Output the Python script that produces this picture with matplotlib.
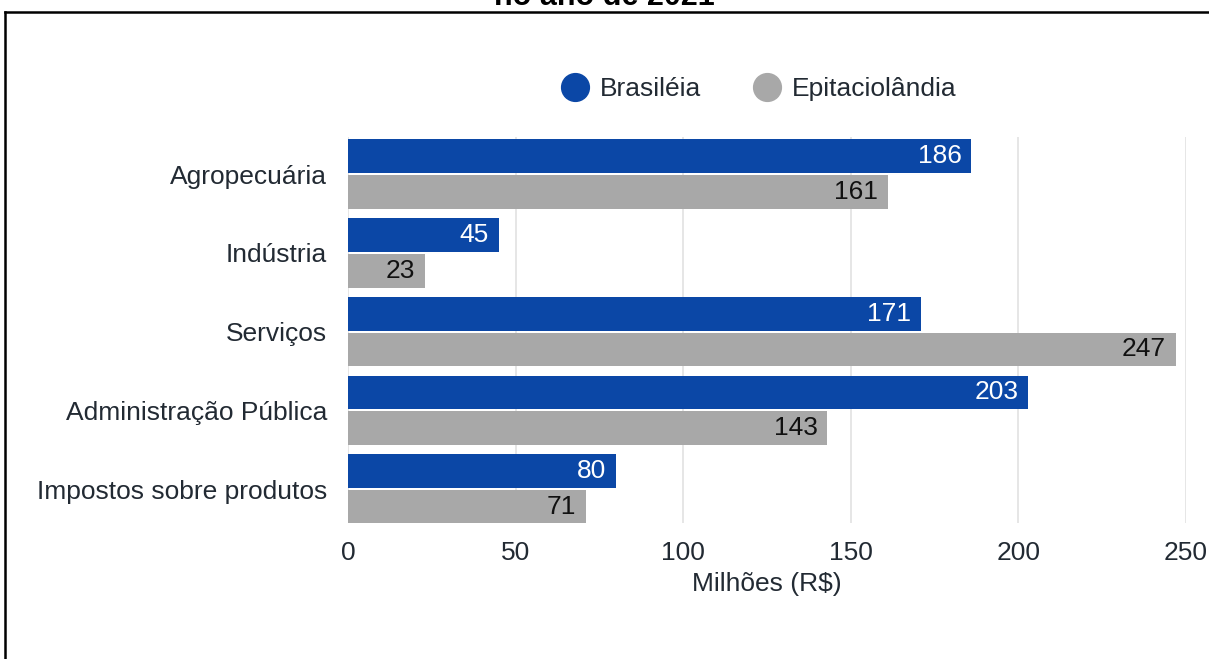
import matplotlib.pyplot as plt
from matplotlib.lines import Line2D
import numpy as np

categories = ['Agropecuária', 'Indústria', 'Serviços', 'Administração Pública', 'Impostos sobre produtos']
brasileia = [186, 45, 171, 203, 80]
epitaciolandia = [161, 23, 247, 143, 71]
series_names = ['Brasiléia', 'Epitaciolândia']
xticks = [0, 50, 100, 150, 200, 250]

blue = '#0B47A6'
gray = '#A8A8A8'
txt = '#222a33'

plt.rcParams['font.family'] = ['Liberation Sans', 'DejaVu Sans']

fig = plt.figure(figsize=(12.09, 6.59), dpi=100)
ax = fig.add_axes([348 / 1209, 1 - 523 / 659, 838 / 1209, 386 / 659])

y = np.arange(len(categories))
h = 0.43
b1 = ax.barh(y - h / 2 - 0.012, brasileia, height=h, color=blue)
b2 = ax.barh(y + h / 2 + 0.012, epitaciolandia, height=h, color=gray)

for rect, v in zip(b1, brasileia):
    ax.annotate(str(v), (v, rect.get_y() + rect.get_height() / 2), xytext=(-7, 0),
                textcoords='offset points', ha='right', va='center', fontsize=19, color='white')
for rect, v in zip(b2, epitaciolandia):
    ax.annotate(str(v), (v, rect.get_y() + rect.get_height() / 2), xytext=(-7, 0),
                textcoords='offset points', ha='right', va='center', fontsize=19, color='#111111')

ax.set_xlim(0, 250)
ax.set_ylim(4.43, -0.47)
ax.set_xticks(xticks)
ax.set_yticks(y)
ax.set_yticklabels(categories)
ax.tick_params(axis='both', length=0, labelsize=19, colors=txt)
ax.tick_params(axis='x', pad=13)
ax.tick_params(axis='y', pad=15)
ax.grid(axis='x', color='#e2e2e2', linewidth=1.2)
ax.set_axisbelow(True)
for s in ax.spines.values():
    s.set_visible(False)
ax.set_xlabel('Milhões (R$)', fontsize=19, color=txt, labelpad=5)

handles = [Line2D([], [], marker='o', linestyle='', markersize=20, color=c) for c in (blue, gray)]
fig.legend(handles, series_names, loc='center', bbox_to_anchor=(0.628, 0.865), ncol=2,
           frameon=False, fontsize=19, handletextpad=0.45, columnspacing=2.0,
           labelcolor=txt, handlelength=1.0)

# frame lines (left and top) and the clipped title above
fig.add_artist(Line2D([5 / 1209, 5 / 1209], [0, 1 - 12 / 659], color='black', linewidth=1.8,
                      transform=fig.transFigure))
fig.add_artist(Line2D([5 / 1209, 1], [1 - 12 / 659, 1 - 12 / 659], color='black', linewidth=1.8,
                      transform=fig.transFigure))
fig.text(0.5, 1 - 5 / 659, 'no ano de 2021', ha='center', va='baseline', fontsize=22, fontweight='bold')

fig.savefig('out.png', dpi=100)
